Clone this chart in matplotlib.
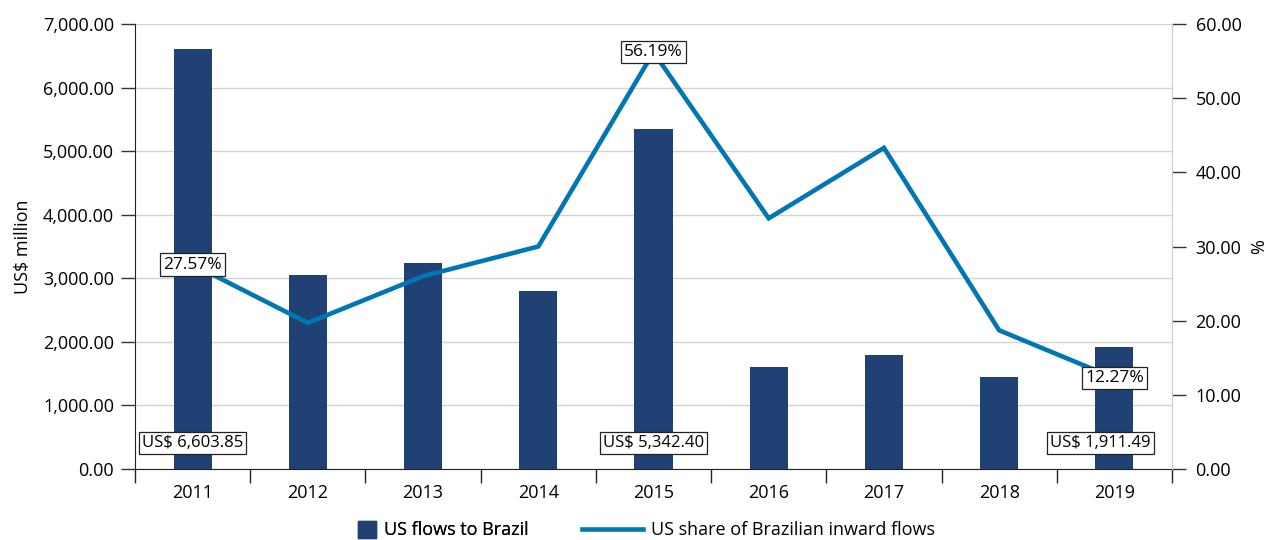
import matplotlib
matplotlib.use("Agg")
import matplotlib.pyplot as plt
import numpy as np
from matplotlib.patches import Patch
from matplotlib.lines import Line2D

plt.rcParams['font.family'] = ['Open Sans', 'DejaVu Sans']

years = ["2011", "2012", "2013", "2014", "2015", "2016", "2017", "2018", "2019"]
flows = [6603.85, 3055, 3245, 2805, 5342.40, 1610, 1795, 1450, 1911.49]
share = [27.57, 19.7, 26.0, 30.0, 56.19, 33.8, 43.3, 18.7, 12.27]
left_ticks = [0, 1000, 2000, 3000, 4000, 5000, 6000, 7000]
right_ticks = [0, 10, 20, 30, 40, 50, 60]
bar_label_idx = [0, 4, 8]
line_label_idx = [0, 4, 8]

bar_color = "#1F4173"
line_color = "#0077B3"
fs = 13.0

fig = plt.figure(figsize=(12.72, 5.4), dpi=100)
ax = fig.add_axes([135/1272, 1-469/540, (1172-135)/1272, (469-24)/540])
ax2 = ax.twinx()

x = np.arange(len(years))
ax.bar(x, flows, width=0.33, color=bar_color, zorder=2)
ax.set_xlim(-0.5, len(years)-0.5)
ax.set_ylim(0, 7000)
ax.set_yticks(left_ticks)
ax.set_yticklabels([f"{v:,.2f}" for v in left_ticks], fontsize=fs)
ax.yaxis.grid(True, color="#d4d4d4", linewidth=1, zorder=0)
ax.set_axisbelow(True)
ax.set_xticks(x)
ax.set_xticklabels(years, fontsize=fs)
ax.set_xticks(np.arange(-0.5, len(years)), minor=True)
ax.tick_params(axis='x', which='major', length=0, pad=11)
ax.tick_params(axis='x', which='minor', length=10, width=1, color="#222222", direction='out')
ax.tick_params(axis='y', length=10, width=1, color="#333333", pad=5)
ax.set_ylabel("US$ million", fontsize=fs, labelpad=8)
for s in ['top', 'right']:
    ax.spines[s].set_visible(False)
ax.spines['left'].set_color("#222222")
ax.spines['bottom'].set_color("#222222")

ax2.plot(x, share, color=line_color, linewidth=3.3, zorder=3, solid_joinstyle='miter')
ax2.set_ylim(0, 60)
ax2.set_yticks(right_ticks)
ax2.set_yticklabels([f"{v:.2f}" for v in right_ticks], fontsize=fs)
ax2.tick_params(axis='y', length=10, width=1, color="#333333", pad=7)
ax2.set_ylabel("%", fontsize=fs, labelpad=6)
for s in ['top', 'left', 'bottom']:
    ax2.spines[s].set_visible(False)
ax2.spines['right'].set_color("#cccccc")

box = dict(boxstyle="square,pad=0.18", fc="white", ec="#222222", lw=0.9)
bar_offsets = {0: 0.0, 4: 0.0, 8: -0.12}
for i in bar_label_idx:
    ax.text(x[i] + bar_offsets[i], 410, f"US$ {flows[i]:,.2f}", ha='center', va='center',
            fontsize=12.0, bbox=box, zorder=5)
for i in line_label_idx:
    ax2.text(x[i], share[i], f"{share[i]:.2f}%", ha='center', va='center',
             fontsize=12.5, bbox=box, zorder=5)

leg1 = fig.legend(handles=[Patch(color=bar_color, label="US flows to Brazil")],
                  loc='center left', bbox_to_anchor=(358/1272, 1-530/540), frameon=False,
                  fontsize=fs, handlelength=1.0, handleheight=1.1, handletextpad=0.45,
                  borderpad=0, borderaxespad=0)
leg2 = fig.legend(handles=[Line2D([0], [0], color=line_color, lw=3.3,
                                  label="US share of Brazilian inward flows")],
                  loc='center left', bbox_to_anchor=(582/1272, 1-530/540), frameon=False,
                  fontsize=fs, handlelength=3.4, handletextpad=0.4,
                  borderpad=0, borderaxespad=0)
fig.add_artist(leg1)

fig.savefig("out.png", dpi=100)
